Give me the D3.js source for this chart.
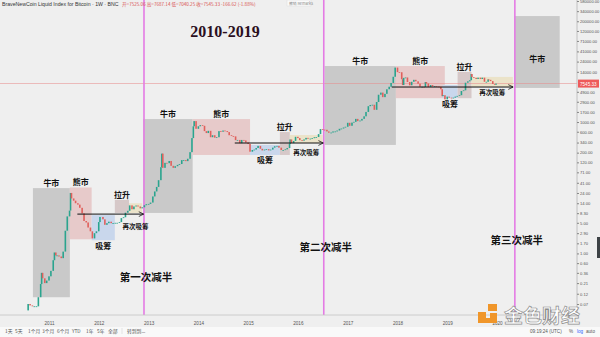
<!DOCTYPE html>
<html><head><meta charset="utf-8">
<script src="https://cdn.jsdelivr.net/npm/d3@7"></script>
<style>
body{margin:0;background:#efefef}
svg{display:block}
</style>
</head><body>
<svg id="chart" width="600" height="337"></svg>
<script>
// Weekly BNC Bitcoin index, sampled roughly twice a month (close, USD)
const dates = [
"2010-07-18","2010-08-01","2010-08-15","2010-09-01","2010-09-15","2010-10-01","2010-10-15","2010-11-01","2010-11-08","2010-11-15","2010-12-01","2010-12-15",
"2011-01-01","2011-01-15","2011-02-01","2011-02-10","2011-02-20","2011-03-01","2011-03-15","2011-04-01","2011-04-15","2011-05-01","2011-05-15","2011-06-01","2011-06-08","2011-06-15","2011-07-01","2011-07-15","2011-08-01","2011-08-15","2011-09-01","2011-09-15","2011-10-01","2011-10-15","2011-11-01","2011-11-15","2011-12-01","2011-12-15",
"2012-01-01","2012-01-10","2012-02-01","2012-02-15","2012-03-01","2012-03-15","2012-04-01","2012-04-15","2012-05-01","2012-05-15","2012-06-01","2012-06-15","2012-07-01","2012-07-15","2012-08-01","2012-08-15","2012-09-01","2012-09-15","2012-10-01","2012-10-15","2012-11-01","2012-11-15","2012-12-01","2012-12-15",
"2013-01-01","2013-01-15","2013-02-01","2013-02-15","2013-03-01","2013-03-15","2013-04-01","2013-04-08","2013-04-15","2013-05-01","2013-05-15","2013-06-01","2013-06-15","2013-07-01","2013-07-15","2013-08-01","2013-08-15","2013-09-01","2013-09-15","2013-10-01","2013-10-15","2013-11-01","2013-11-15","2013-11-25","2013-12-01","2013-12-15",
"2014-01-01","2014-01-15","2014-02-01","2014-02-15","2014-03-01","2014-03-15","2014-04-01","2014-04-15","2014-05-01","2014-05-15","2014-06-01","2014-06-15","2014-07-01","2014-07-15","2014-08-01","2014-08-15","2014-09-01","2014-09-15","2014-10-01","2014-10-15","2014-11-01","2014-11-15","2014-12-01","2014-12-15",
"2015-01-01","2015-01-15","2015-02-01","2015-02-15","2015-03-01","2015-03-15","2015-04-01","2015-04-15","2015-05-01","2015-05-15","2015-06-01","2015-06-15","2015-07-01","2015-07-15","2015-08-01","2015-08-15","2015-09-01","2015-09-15","2015-10-01","2015-10-15","2015-11-01","2015-11-05","2015-11-15","2015-12-01","2015-12-15",
"2016-01-01","2016-01-15","2016-02-01","2016-02-15","2016-03-01","2016-03-15","2016-04-01","2016-04-15","2016-05-01","2016-05-15","2016-06-01","2016-06-15","2016-07-01","2016-07-15","2016-08-01","2016-08-15","2016-09-01","2016-09-15","2016-10-01","2016-10-15","2016-11-01","2016-11-15","2016-12-01","2016-12-15",
"2017-01-01","2017-01-15","2017-02-01","2017-02-15","2017-03-01","2017-03-15","2017-04-01","2017-04-15","2017-05-01","2017-05-15","2017-06-01","2017-06-15","2017-07-01","2017-07-15","2017-08-01","2017-08-15","2017-09-01","2017-09-15","2017-10-01","2017-10-15","2017-11-01","2017-11-15","2017-12-01","2017-12-15",
"2018-01-01","2018-01-15","2018-02-01","2018-02-08","2018-02-15","2018-03-01","2018-03-15","2018-04-01","2018-04-15","2018-05-01","2018-05-15","2018-06-01","2018-06-15","2018-07-01","2018-07-15","2018-07-25","2018-08-01","2018-08-15","2018-09-01","2018-09-15","2018-10-01","2018-10-15","2018-11-01","2018-11-15","2018-11-25","2018-12-01","2018-12-15",
"2019-01-01","2019-01-15","2019-02-01","2019-02-15","2019-03-01","2019-03-15","2019-04-01","2019-04-15","2019-05-01","2019-05-15","2019-06-01","2019-06-15","2019-06-26","2019-07-01","2019-07-15","2019-08-01","2019-08-15","2019-09-01","2019-09-15","2019-10-01","2019-10-15","2019-10-28","2019-11-01","2019-11-15","2019-12-01","2019-12-15","2019-12-25"
];
const closes = [
0.05,0.07,0.065,0.062,0.062,0.062,0.10,0.20,0.36,0.27,0.21,0.24,
0.30,0.40,0.70,1.05,0.90,0.90,0.85,0.78,1.10,3.3,7.0,9.5,24,18,16,14,13,11,8.2,5.5,5.1,3.9,3.2,2.2,2.9,3.2,
5.2,6.8,6.0,4.5,4.9,5.3,4.9,4.9,5.0,5.0,5.2,6.4,6.7,8.5,9.4,12.5,10.2,11.8,12.4,11.8,10.7,11.3,12.6,13.3,
13.5,14.5,20,26,33,47,93,190,90,117,115,129,100,90,98,105,110,135,135,128,145,205,430,800,1050,700,
800,850,820,620,560,630,450,500,440,450,620,600,640,620,590,500,480,470,385,390,330,390,380,340,
315,210,230,235,255,285,245,225,235,240,225,235,260,280,285,260,230,230,238,255,315,400,330,370,460,
430,385,375,400,435,415,418,428,450,455,530,690,670,665,610,570,575,610,610,640,700,710,750,780,
960,820,970,1010,1180,1050,1080,1180,1350,1700,2300,2450,2480,1900,2870,4200,4700,3700,4400,5600,6400,7800,10800,17500,
13800,13700,9500,7000,10200,10400,8200,6900,8300,9200,8500,7500,6400,6400,6300,8200,7600,6300,7000,6500,6600,6500,6350,5600,3900,4100,3300,
3800,3600,3450,3600,3800,3950,4100,5100,5300,7900,8500,9000,12500,10600,10200,9600,10300,9600,10300,8300,8300,9400,9200,8600,7400,7100,7545.33
];

// Right price axis labels (log scale)
const priceTicks = [0.07,0.12,0.21,0.36,0.60,1.00,1.70,2.90,5.00,8.30,14,24,41,71,120,200,340,600,1000,1700,2900,4900,14000,24000,41000,71000,120000,200000,340000,580000];
const yearTicks = [2011,2012,2013,2014,2015,2016,2017,2018,2019,2020];
const lastPrice = 7545.33;

// Halving dates
const halvingDates = ["2012-11-28","2016-07-09","2020-05-11"];
const halvingNames = ["第一次减半","第二次减半","第三次减半"];
const halvingLabelPrice = [0.235, 1.13, 1.64];

// Market phase zones: start, end, low price, high price, kind
const phaseStart = ["2010-09-05","2011-06-03","2011-11-10","2012-04-28","2012-08-10",
                    "2012-11-22","2013-11-20","2015-01-15","2015-08-22","2015-11-03",
                    "2016-07-15","2017-12-20","2018-11-28","2019-03-18","2019-06-28",
                    "2020-05-11"];
const phaseEnd   = ["2011-06-03","2011-11-10","2012-04-28","2012-08-10","2012-11-14",
                    "2013-11-20","2015-01-15","2015-08-22","2015-11-03","2016-07-01",
                    "2017-12-20","2018-12-14","2019-03-18","2019-06-28","2020-04-26",
                    "2021-04-05"];
const phaseLow   = [0.10,2.1,2.0,8.4,8.4, 8.4,177,177,177,332, 300,3500,3500,3500,6300, 6000];
const phaseHigh  = [31,32,7.5,16.6,14, 1170,1170,300,590,505, 19000,19000,7000,13900,10700, 263000];
const phaseKind  = ["bull","bear","acc","rally","reacc", "bull","bear","acc","rally","reacc",
                    "bull","bear","acc","rally","reacc", "bull"];
const phaseNames = {bull:"牛市", bear:"熊市", acc:"吸筹", rally:"拉升", reacc:"再次吸筹"};

// Re-accumulation reference arrows: from, to, price
const arrowStart = ["2011-07-28","2014-09-25","2017-11-20"];
const arrowEnd   = ["2012-11-25","2016-07-05","2020-04-28"];
const arrowPrice = [7.9, 332, 6300];

const svg = d3.select("#chart");
const W = 600, H = 337;
const axisX = 577, axisY = 315;
const parse = d3.utcParse("%Y-%m-%d");

const x = d3.scaleUtc()
  .domain([Date.UTC(2011,0,1), Date.UTC(2020,0,1)])
  .range([49, 497]);
const y = d3.scaleLog().domain([0.07, 580000]).range([304, 1]);

const fill = {bull:"#c9c9c9", bear:"#e7caca", acc:"#c9d7ec", rally:"#d6c8c8", reacc:"#ebe3c9"};

// Backgrounds
svg.append("rect").attr("width",W).attr("height",H).attr("fill","#efefef");
svg.append("rect").attr("y",axisY+12).attr("width",W).attr("height",H-axisY-12).attr("fill","#f9f9f9");

const plot = svg.append("g");
plot.append("clipPath").attr("id","clip").append("rect")
  .attr("width",axisX).attr("height",axisY);
const inner = plot.append("g").attr("clip-path","url(#clip)");

// Phase zones
const zones = phaseKind.map((k,i)=>({k, x0:x(parse(phaseStart[i])), x1:x(parse(phaseEnd[i])),
  y0:y(phaseHigh[i]), y1:y(phaseLow[i])}));
inner.selectAll("rect.zone").data(zones).join("rect")
  .attr("class","zone")
  .attr("x",d=>d.x0).attr("y",d=>d.y0)
  .attr("width",d=>d.x1-d.x0).attr("height",d=>d.y1-d.y0)
  .attr("fill",d=>fill[d.k]);

// Current price line
inner.append("line").attr("x1",0).attr("x2",axisX)
  .attr("y1",y(lastPrice)).attr("y2",y(lastPrice))
  .attr("stroke","#e98a8a").attr("stroke-width",0.7).attr("opacity",0.8);

// Halving lines
inner.selectAll("line.halv").data(halvingDates).join("line")
  .attr("class","halv")
  .attr("x1",d=>x(parse(d))).attr("x2",d=>x(parse(d)))
  .attr("y1",0).attr("y2",axisY)
  .attr("stroke","#e47be4").attr("stroke-width",1.6);

// Candles: each bar runs from the previous close to the current close
const candles = closes.slice(1).map((c,i)=>({
  t: parse(dates[i+1]), o: closes[i], c
}));
inner.selectAll("rect.candle").data(candles).join("rect")
  .attr("class","candle")
  .attr("x",d=>x(d.t)-0.8).attr("width",1.6)
  .attr("y",d=>y(Math.max(d.o,d.c)))
  .attr("height",d=>Math.max(0.8, Math.abs(y(d.o)-y(d.c))))
  .attr("fill",d=>d.c>=d.o ? "#2aa48e" : "#e0605c");

// Arrows
const defs = svg.append("defs");
defs.append("marker").attr("id","head").attr("viewBox","0 0 10 10")
  .attr("refX",9).attr("refY",5).attr("markerWidth",6).attr("markerHeight",6)
  .attr("orient","auto")
  .append("path").attr("d","M1,1 L9,5 L1,9").attr("fill","none")
  .attr("stroke","#111").attr("stroke-width",1.3);
inner.selectAll("line.arrow").data(arrowPrice).join("line")
  .attr("class","arrow")
  .attr("x1",(d,i)=>x(parse(arrowStart[i])))
  .attr("x2",(d,i)=>x(parse(arrowEnd[i])))
  .attr("y1",d=>y(d)).attr("y2",d=>y(d))
  .attr("stroke","#111").attr("stroke-width",1)
  .attr("marker-end","url(#head)");

// Phase labels
const cjk = "'Noto Sans CJK SC', 'Noto Sans', sans-serif";
const reaccGap = [16, 12, 8];
let reaccIdx = 0;
zones.forEach((z,i)=>{
  const cx = (z.x0+z.x1)/2;
  let ty, size = 8;
  if (z.k==="acc") { ty = z.y1 + 8.5; }
  else if (z.k==="reacc") { ty = z.y1 + reaccGap[reaccIdx++]; size = 6.5; }
  else if (i === zones.length-1) { ty = z.y0 + 46; }
  else { ty = z.y0 - 2; }
  svg.append("text").attr("x",cx).attr("y",ty)
    .attr("text-anchor","middle")
    .attr("font-family",cjk).attr("font-weight","bold")
    .attr("font-size",size).attr("fill","#111")
    .text(phaseNames[z.k]);
});

// Halving labels
halvingDates.forEach((d,i)=>{
  svg.append("text").attr("x",x(parse(d))+2).attr("y",y(halvingLabelPrice[i]))
    .attr("text-anchor","middle").attr("font-family",cjk).attr("font-weight","bold")
    .attr("font-size",10.5).attr("fill","#111").text(halvingNames[i]);
});

// Title
svg.append("text").attr("x",225).attr("y",37).attr("text-anchor","middle")
  .attr("font-family","'Liberation Serif', 'DejaVu Serif', serif").attr("font-weight","bold")
  .attr("font-size",16).attr("fill","#2b0f1e").text("2010-2019");

// Right price axis
svg.append("line").attr("x1",axisX).attr("x2",axisX).attr("y1",0).attr("y2",axisY)
  .attr("stroke","#b5b5b5").attr("stroke-width",0.8);
const yAxis = d3.axisRight(y).tickValues(priceTicks).tickSize(2)
  .tickFormat(d=>d3.format(".2f")(d));
const ya = svg.append("g").attr("transform",`translate(${axisX},0)`).call(yAxis);
ya.select(".domain").remove();
ya.selectAll("line").attr("stroke","#888");
ya.selectAll("text").attr("font-size",4.1).attr("fill","#555")
  .attr("font-family","'Liberation Sans', Arial, sans-serif").attr("x",3);

// Last price tag
const lp = y(lastPrice);
svg.append("rect").attr("x",axisX+1).attr("y",lp-4).attr("width",21).attr("height",8).attr("fill","#ee5a5a");
svg.append("text").attr("x",axisX+3).attr("y",lp+2).attr("font-size",4.6)
  .attr("font-family","'Liberation Sans', Arial, sans-serif").attr("fill","#fff").text(lastPrice.toFixed(2));

// Bottom time axis
svg.append("line").attr("x1",0).attr("x2",axisX).attr("y1",axisY).attr("y2",axisY)
  .attr("stroke","#c4c4c4").attr("stroke-width",0.8);
const xAxis = d3.axisBottom(x).tickValues(yearTicks.map(yr=>new Date(Date.UTC(yr,0,1))))
  .tickSize(0).tickFormat(d3.utcFormat("%Y"));
const xa = svg.append("g").attr("transform",`translate(0,${axisY})`).call(xAxis);
xa.select(".domain").remove();
xa.selectAll("text").attr("font-size",4.6).attr("fill","#555").attr("dy","6.5")
  .attr("font-family","'Liberation Sans', Arial, sans-serif");

// Header line
const small = "'Liberation Sans', Arial, sans-serif";
svg.append("text").attr("x",2).attr("y",6).attr("font-size",5.2).attr("fill","#333")
  .attr("font-family",small).text("BraveNewCoin Liquid Index for Bitcoin · 1W · BNC");
svg.append("text").attr("x",122).attr("y",6).attr("font-size",4.6).attr("fill","#d9534f")
  .attr("font-family",cjk)
  .text("开=7525.06  高=7687.14  低=7040.25  收=7545.33  -166.62 (-1.88%)");
svg.append("rect").attr("x",287).attr("y",0).attr("width",24).attr("height",6)
  .attr("fill","#fafafa").attr("stroke","#dcdcdc").attr("stroke-width",0.5);
svg.append("text").attr("x",289).attr("y",4.6).attr("font-size",3.8).attr("fill","#888")
  .attr("font-family",cjk).text("撤销 Remarks");

// Bottom toolbar
const ranges = ["1天","5天","1个月","3个月","6个月","YTD","1年","5年","全部"];
const rangeX = [5,15,28,42,57,72,86,97,108];
ranges.forEach((r,i)=>svg.append("text").attr("x",rangeX[i]).attr("y",333)
  .attr("font-size",4.8).attr("fill","#555").attr("font-family",cjk).text(r));
svg.append("line").attr("x1",122).attr("x2",122).attr("y1",328).attr("y2",334).attr("stroke","#ccc").attr("stroke-width",0.5);
svg.append("text").attr("x",127).attr("y",333).attr("font-size",4.8).attr("fill","#555")
  .attr("font-family",cjk).text("转到到...");
svg.append("text").attr("x",530).attr("y",333).attr("font-size",4.6).attr("fill","#555")
  .attr("font-family",small).text("09:19:24 (UTC)");
svg.append("text").attr("x",569).attr("y",333).attr("font-size",4.6).attr("fill","#555")
  .attr("font-family",small).text("%");
svg.append("text").attr("x",577).attr("y",333).attr("font-size",4.6).attr("fill","#2962ff")
  .attr("font-family",small).text("log");
svg.append("text").attr("x",586).attr("y",333).attr("font-size",4.6).attr("fill","#555")
  .attr("font-family",small).text("auto");
svg.append("rect").attr("x",597).attr("y",237).attr("width",3).attr("height",21).attr("fill","#3d4245");

// Watermark
const wm = svg.append("g");
wm.append("rect").attr("x",478).attr("y",312).attr("width",8).attr("height",11).attr("fill","#f0962a");
wm.append("rect").attr("x",488).attr("y",304).attr("width",9).attr("height",7).attr("fill","#f0962a");
wm.append("rect").attr("x",490).attr("y",313).attr("width",7).attr("height",10).attr("fill","#f0962a");
wm.append("rect").attr("x",482).attr("y",318).attr("width",12).attr("height",5).attr("fill","#f0962a");
wm.append("text").attr("x",504).attr("y",323).attr("font-size",19).attr("font-weight","bold")
  .attr("font-family",cjk).attr("fill","#ffffff").attr("stroke","#8c8c8c").attr("stroke-width",0.7)
  .text("金色财经");
</script>
</body></html>
